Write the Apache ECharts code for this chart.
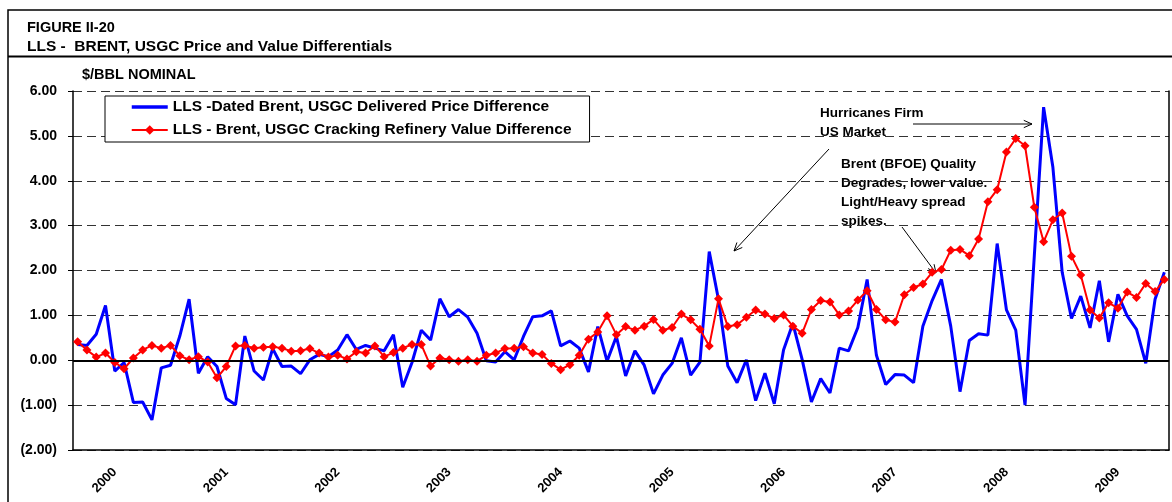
<!DOCTYPE html>
<html>
<head>
<meta charset="utf-8">
<script src="https://cdn.jsdelivr.net/npm/echarts@6/dist/echarts.min.js"></script>
<style>
  html, body { margin: 0; padding: 0; background: #fff; }
  #chart { width: 1172px; height: 502px; }
</style>
</head>
<body>
<div id="chart"></div>
<script>
// years on the axis, data is monthly Jan 2000 - Oct 2009
const years = ['2000', '2001', '2002', '2003', '2004', '2005', '2006', '2007', '2008', '2009']
const monthsInLastYear = 10

// LLS - Dated Brent, USGC delivered price difference ($/bbl)
const priceDiff = [
  0.35, 0.33, 0.58, 1.22, -0.24, -0.05, -0.94, -0.93, -1.33, -0.17, -0.11, 0.54,
  1.36, -0.29, 0.08, -0.14, -0.85, -0.99, 0.54, -0.24, -0.44, 0.26, -0.14, -0.13,
  -0.30, 0.01, 0.13, 0.08, 0.23, 0.57, 0.24, 0.33, 0.27, 0.21, 0.57, -0.60,
  -0.05, 0.67, 0.45, 1.37, 0.97, 1.13, 0.96, 0.60, -0.01, -0.04, 0.19, 0.01,
  0.53, 0.97, 0.99, 1.10, 0.32, 0.43, 0.27, -0.26, 0.75, -0.02, 0.53, -0.35,
  0.21, -0.11, -0.75, -0.33, -0.07, 0.50, -0.33, -0.04, 2.42, 1.35, -0.13, -0.50,
  0.01, -0.90, -0.29, -0.97, 0.23, 0.82, 0.02, -0.93, -0.41, -0.73, 0.27, 0.21,
  0.73, 1.80, 0.11, -0.54, -0.32, -0.33, -0.50, 0.76, 1.33, 1.80, 0.76, -0.70,
  0.44, 0.59, 0.56, 2.60, 1.12, 0.67, -1.00, 2.33, 5.64, 4.30, 1.96, 0.93,
  1.43, 0.72, 1.77, 0.41, 1.47, 0.99, 0.69, -0.07, 1.36, 1.96
]

// LLS - Brent, USGC cracking refinery value difference ($/bbl)
const valueDiff = [
  0.41, 0.23, 0.07, 0.16, -0.05, -0.19, 0.05, 0.23, 0.33, 0.27, 0.33, 0.10,
  0.01, 0.08, -0.04, -0.39, -0.14, 0.32, 0.33, 0.27, 0.29, 0.30, 0.27, 0.20,
  0.21, 0.26, 0.16, 0.07, 0.11, 0.03, 0.19, 0.16, 0.32, 0.08, 0.17, 0.27,
  0.35, 0.35, -0.13, 0.05, 0.01, -0.02, 0.01, -0.02, 0.11, 0.16, 0.26, 0.27,
  0.30, 0.16, 0.13, -0.07, -0.21, -0.10, 0.11, 0.47, 0.63, 0.99, 0.57, 0.75,
  0.67, 0.76, 0.91, 0.67, 0.73, 1.03, 0.90, 0.69, 0.32, 1.37, 0.75, 0.79,
  0.96, 1.12, 1.03, 0.93, 1.01, 0.76, 0.60, 1.13, 1.33, 1.30, 1.01, 1.10,
  1.34, 1.55, 1.13, 0.90, 0.85, 1.46, 1.62, 1.70, 1.96, 2.02, 2.45, 2.47,
  2.33, 2.70, 3.53, 3.80, 4.64, 4.94, 4.78, 3.41, 2.64, 3.13, 3.28, 2.32,
  1.90, 1.12, 0.94, 1.28, 1.16, 1.52, 1.40, 1.71, 1.53, 1.80
]

const months = []
years.forEach((y, k) => {
  const n = k === years.length - 1 ? monthsInLastYear : 12
  for (let m = 1; m <= n; m++) months.push(y + '-' + String(m).padStart(2, '0'))
})

const FONT = '"Liberation Sans", Arial, sans-serif'
const BLUE_NAME = 'LLS -Dated Brent, USGC Delivered Price Difference'
const RED_NAME = 'LLS - Brent, USGC Cracking Refinery Value Difference'

// open V arrow for the notes
function arrow (x1, y1, x2, y2) {
  const a = Math.atan2(y2 - y1, x2 - x1)
  const len = 9, spread = 0.42
  const p1 = [x2 - len * Math.cos(a - spread), y2 - len * Math.sin(a - spread)]
  const p2 = [x2 - len * Math.cos(a + spread), y2 - len * Math.sin(a + spread)]
  return [
    { type: 'line', shape: { x1, y1, x2, y2 }, style: { stroke: '#000', lineWidth: 1 } },
    { type: 'polyline', shape: { points: [p1, [x2, y2], p2] }, style: { stroke: '#000', lineWidth: 1, fill: null } }
  ]
}

function note (x, y, text) {
  return {
    type: 'text', left: x, top: y - 8,
    style: { text, font: 'bold 13.5px ' + FONT, fill: '#000' }
  }
}

const myChart = echarts.init(document.getElementById('chart'))

myChart.setOption({
  animation: false,
  backgroundColor: '#fff',
  grid: { left: 73, right: 3, top: 91, bottom: 52 },
  legend: {
    orient: 'vertical',
    left: 105,
    top: 96,
    padding: [3, 18, 4, 25],
    itemGap: 7,
    itemWidth: 36,
    itemHeight: 12,
    borderColor: '#000',
    borderWidth: 1,
    backgroundColor: '#fff',
    data: [
      { name: BLUE_NAME, itemStyle: { opacity: 0 }, lineStyle: { width: 3.5 } },
      { name: RED_NAME, lineStyle: { width: 2 } }
    ],
    textStyle: { fontFamily: FONT, fontWeight: 'bold', fontSize: 15.5, color: '#000' }
  },
  xAxis: {
    type: 'category',
    data: months,
    boundaryGap: true,
    axisLine: { onZero: false, lineStyle: { color: '#000', width: 1.5 } },
    axisTick: {
      inside: true,
      length: 5,
      interval: (i) => i % 12 === 0,
      lineStyle: { color: '#000' }
    },
    axisLabel: {
      interval: (i) => i % 12 === 4,
      rotate: 45,
      margin: 20,
      formatter: (v) => v.slice(0, 4),
      fontFamily: FONT,
      fontWeight: 'bold',
      fontSize: 13,
      color: '#000'
    },
    splitLine: { show: false }
  },
  yAxis: [
    {
      type: 'value',
      min: -2,
      max: 6,
      interval: 1,
      name: '$/BBL NOMINAL',
      nameGap: 16,
      nameTextStyle: {
        fontFamily: FONT, fontWeight: 'bold', fontSize: 14.5, color: '#000',
        align: 'left', verticalAlign: 'middle', padding: [0, 0, 0, 9]
      },
      axisLine: { show: true, lineStyle: { color: '#000', width: 1.5 } },
      axisTick: { show: true, length: 5, lineStyle: { color: '#000' } },
      axisLabel: {
        margin: 16,
        formatter: (v) => v < 0 ? '(' + Math.abs(v).toFixed(2) + ')' : v.toFixed(2),
        fontFamily: FONT,
        fontWeight: 'bold',
        fontSize: 14,
        color: '#000'
      },
      splitLine: { show: true, lineStyle: { color: '#333', width: 1, type: [9, 5] } }
    },
    {
      type: 'value',
      position: 'right',
      min: -2,
      max: 6,
      interval: 1,
      axisLine: { show: true, lineStyle: { color: '#000', width: 1.5 } },
      axisTick: { show: false },
      axisLabel: { show: false },
      splitLine: { show: false }
    }
  ],
  series: [
    {
      name: BLUE_NAME,
      type: 'line',
      data: priceDiff,
      symbol: 'none',
      color: '#0000ff',
      lineStyle: { width: 3, color: '#0000ff' },
      z: 2,
      markLine: {
        silent: true,
        symbol: ['none', 'none'],
        label: { show: false },
        lineStyle: { color: '#000', width: 2, type: 'solid' },
        data: [{ yAxis: 0 }]
      }
    },
    {
      name: RED_NAME,
      type: 'line',
      data: valueDiff,
      symbol: 'diamond',
      symbolSize: 9,
      showAllSymbol: true,
      color: '#ff0000',
      lineStyle: { width: 2, color: '#ff0000' },
      itemStyle: { color: '#ff0000' },
      z: 3
    }
  ],
  graphic: [
    // frame and header rule
    { type: 'rect', shape: { x: 8, y: 10, width: 1300, height: 700 }, style: { fill: null, stroke: '#000', lineWidth: 1.5 }, z: 10 },
    { type: 'line', shape: { x1: 8, y1: 56.5, x2: 1172, y2: 56.5 }, style: { stroke: '#000', lineWidth: 2 }, z: 10 },
    { type: 'text', left: 27, top: 20, style: { text: 'FIGURE II-20', font: 'bold 14.5px ' + FONT, fill: '#000' } },
    { type: 'text', left: 27, top: 39, style: { text: 'LLS -  BRENT, USGC Price and Value Differentials', font: 'bold 15.5px ' + FONT, fill: '#000' } },
    // notes
    note(820, 114, 'Hurricanes Firm'),
    note(820, 133, 'US Market'),
    note(841, 165, 'Brent (BFOE) Quality'),
    note(841, 184, 'Degrades, lower value.'),
    note(841, 203, 'Light/Heavy spread'),
    note(841, 222, 'spikes.'),
    ...arrow(829, 149, 734, 251),
    ...arrow(913, 124, 1032, 124),
    ...arrow(902, 227, 936, 273)
  ]
})
</script>
</body>
</html>
